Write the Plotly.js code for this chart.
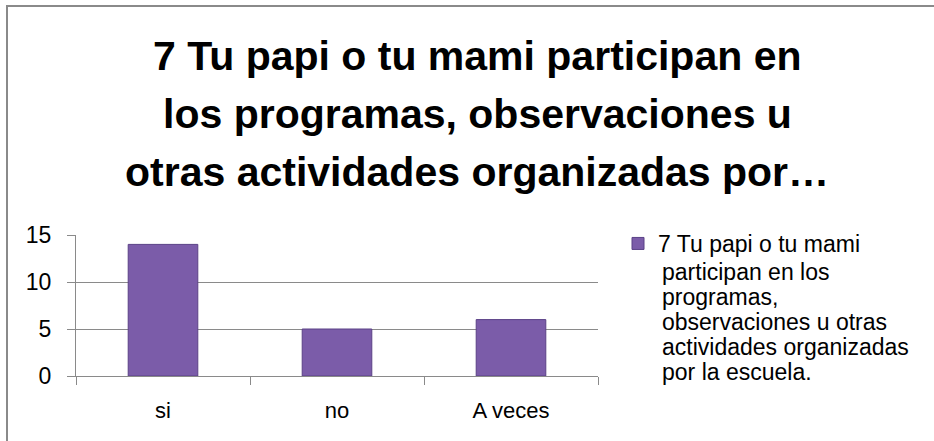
<!DOCTYPE html>
<html>
<head>
<meta charset="utf-8">
<script src="https://cdn.plot.ly/plotly-3.0.1.min.js"></script>
<style>
html,body{margin:0;padding:0;background:#fff;}
#chart{width:934px;height:441px;}
</style>
</head>
<body>
<div id="chart"></div>
<script>
const categories = ["si", "no", "A veces"];
const values = [14, 5, 6];
const legendLines = ["7 Tu papi o tu mami", "participan en los", "programas,", "observaciones u otras", "actividades organizadas", "por la escuela."];
const titleLines = ["7 Tu papi o tu mami participan en", "los programas, observaciones u", "otras actividades organizadas por…"];
const yTicks = [0, 5, 10, 15];

const W = 934, H = 441;
const m = {l: 76, r: 336, t: 235, b: 65};
const pw = W - m.l - m.r, ph = H - m.t - m.b;
const px = x => (x - m.l) / pw;
const py = y => (H - m.b - y) / ph;

const font = "'Liberation Sans', Arial, sans-serif";
const gray = "#8a8a8a";

const trace = {
  type: "bar",
  x: categories,
  y: values,
  name: legendLines[0],
  marker: {color: "#7b5ca9", line: {color: "#5a4186", width: 1}},
  width: 0.4,
  hoverinfo: "skip"
};

const titleY = [56, 114, 172];
const annotations = titleLines.map((t, i) => ({
  text: "<b>" + t + "</b>",
  xref: "paper", yref: "paper",
  x: px(477), y: py(titleY[i]),
  xanchor: "center", yanchor: "middle",
  showarrow: false,
  font: {family: font, size: 41, color: "#000"}
}));

const legendY = [246, 272, 297, 322, 347, 372];
legendLines.slice(1).forEach((t, i) => {
  annotations.push({
    text: t,
    xref: "paper", yref: "paper",
    x: px(660), y: py(legendY[i + 1]),
    xanchor: "left", yanchor: "middle",
    showarrow: false,
    font: {family: font, size: 23, color: "#000"}
  });
});

const layout = {
  width: W, height: H,
  margin: m,
  paper_bgcolor: "#fff",
  plot_bgcolor: "#fff",
  showlegend: true,
  legend: {
    x: px(618), y: py(222), xanchor: "left", yanchor: "top",
    font: {family: font, size: 23, color: "#000"},
    valign: "middle",
    itemwidth: 30,
    tracegroupgap: 0
  },
  xaxis: {
    type: "category",
    showgrid: false,
    showline: true, linecolor: gray, linewidth: 1,
    ticks: "outside", tickson: "boundaries", ticklen: 8, tickcolor: gray,
    tickfont: {family: font, size: 22, color: "#000"},
    ticklabelstandoff: 15,
    fixedrange: true
  },
  yaxis: {
    range: [0, 15],
    tickvals: yTicks,
    showgrid: true, gridcolor: gray, gridwidth: 1,
    showline: true, linecolor: gray, linewidth: 1,
    zeroline: false,
    ticks: "outside", ticklen: 8, tickcolor: gray,
    tickfont: {family: font, size: 23, color: "#000"},
    ticklabelstandoff: 11,
    fixedrange: true
  },
  annotations: annotations,
  shapes: [
    {type: "line", xref: "paper", yref: "paper", x0: px(6), x1: px(940), y0: py(6), y1: py(6), line: {color: gray, width: 2}},
    {type: "line", xref: "paper", yref: "paper", x0: px(7), x1: px(7), y0: py(5), y1: py(445), line: {color: gray, width: 2}}
  ]
};

Plotly.newPlot("chart", [trace], layout, {displayModeBar: false, staticPlot: true});
</script>
</body>
</html>
